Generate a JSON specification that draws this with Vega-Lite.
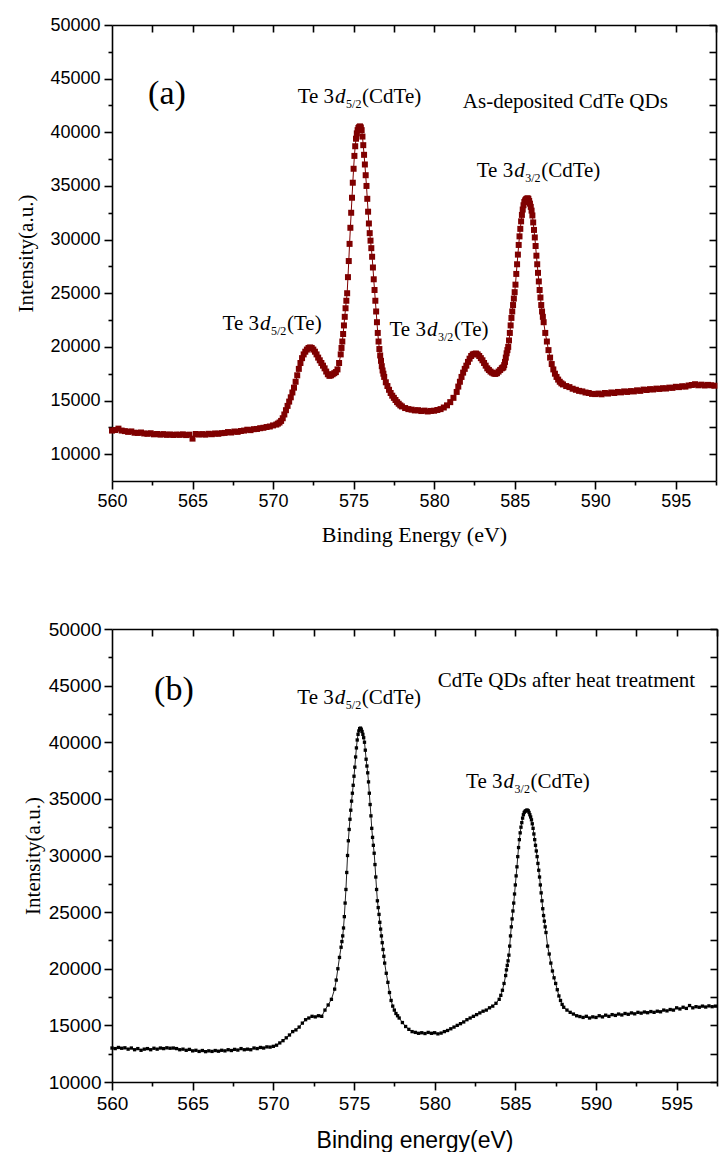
{
"$schema": "https://vega.github.io/schema/vega-lite/v6.json",
"padding": {"left": 15, "top": 16, "right": 0, "bottom": 0},
"spacing": 75,
"align": "none",
"config": {
  "view": {"stroke": null},
  "axis": {"labelFont": "Liberation Sans", "labelFontSize": 18, "labelColor": "black", "domainColor": "black", "tickColor": "black", "domainWidth": 1.6, "tickWidth": 1.6, "grid": false, "titleColor": "black", "titleFontWeight": "normal", "labelOverlap": false, "labelFlush": false}
},
"datasets": {
"a": [
{"e":560.0,"i":12200},{"e":560.2,"i":12250},{"e":560.4,"i":12380},{"e":560.6,"i":12200},{"e":560.8,"i":12150},{"e":561.0,"i":12080},{"e":561.2,"i":12120},{"e":561.4,"i":12000},{"e":561.6,"i":11980},{"e":561.8,"i":12020},
{"e":562.0,"i":11930},{"e":562.2,"i":11900},{"e":562.4,"i":11950},{"e":562.6,"i":11850},{"e":562.8,"i":11880},{"e":563.0,"i":11820},{"e":563.2,"i":11870},{"e":563.4,"i":11800},{"e":563.6,"i":11840},{"e":563.8,"i":11790},
{"e":564.0,"i":11830},{"e":564.2,"i":11800},{"e":564.4,"i":11850},{"e":564.6,"i":11780},{"e":564.8,"i":11820},{"e":565.0,"i":11450},{"e":565.2,"i":11880},{"e":565.4,"i":11830},{"e":565.6,"i":11870},{"e":565.8,"i":11820},
{"e":566.0,"i":11900},{"e":566.2,"i":11860},{"e":566.4,"i":11930},{"e":566.6,"i":11900},{"e":566.8,"i":11960},{"e":567.0,"i":11980},{"e":567.2,"i":12060},{"e":567.4,"i":12020},{"e":567.6,"i":12110},{"e":567.8,"i":12080},
{"e":568.0,"i":12160},{"e":568.2,"i":12200},{"e":568.4,"i":12280},{"e":568.6,"i":12240},{"e":568.8,"i":12330},{"e":569.0,"i":12350},{"e":569.2,"i":12420},{"e":569.4,"i":12460},{"e":569.6,"i":12530},{"e":569.8,"i":12580},
{"e":570.0,"i":12680},{"e":570.2,"i":12760},{"e":570.3,"i":12850},{"e":570.4,"i":12950},{"e":570.5,"i":13100},{"e":570.6,"i":13350},{"e":570.7,"i":13700},{"e":570.8,"i":14100},{"e":570.9,"i":14500},{"e":571.0,"i":14900},
{"e":571.1,"i":15300},{"e":571.2,"i":15750},{"e":571.3,"i":16200},{"e":571.4,"i":16750},{"e":571.5,"i":17350},{"e":571.6,"i":17950},{"e":571.7,"i":18500},{"e":571.8,"i":18950},{"e":571.9,"i":19300},{"e":572.0,"i":19550},
{"e":572.1,"i":19750},{"e":572.2,"i":19900},{"e":572.3,"i":19950},{"e":572.4,"i":19900},{"e":572.5,"i":19750},{"e":572.6,"i":19550},{"e":572.7,"i":19300},{"e":572.8,"i":19000},{"e":572.9,"i":18750},{"e":573.0,"i":18500},
{"e":573.1,"i":18250},{"e":573.2,"i":18000},{"e":573.3,"i":17700},{"e":573.4,"i":17450},{"e":573.5,"i":17300},{"e":573.6,"i":17350},{"e":573.7,"i":17450},{"e":573.8,"i":17550},{"e":573.9,"i":17650},{"e":574.0,"i":17900},
{"e":574.1,"i":18500},{"e":574.2,"i":19300},{"e":574.25,"i":19900},{"e":574.3,"i":20500},{"e":574.35,"i":21200},{"e":574.4,"i":22000},{"e":574.45,"i":22800},{"e":574.5,"i":23600},{"e":574.55,"i":24300},{"e":574.6,"i":25000},
{"e":574.65,"i":26500},{"e":574.7,"i":28000},{"e":574.75,"i":29600},{"e":574.8,"i":31100},{"e":574.85,"i":32500},{"e":574.9,"i":33900},{"e":574.95,"i":35300},{"e":575.0,"i":36600},{"e":575.05,"i":37800},{"e":575.1,"i":38700},
{"e":575.15,"i":39400},{"e":575.2,"i":39900},{"e":575.25,"i":40200},{"e":575.3,"i":40400},{"e":575.35,"i":40500},{"e":575.4,"i":40550},{"e":575.45,"i":40450},{"e":575.5,"i":40200},{"e":575.55,"i":39600},{"e":575.6,"i":38800},
{"e":575.65,"i":37900},{"e":575.7,"i":37000},{"e":575.75,"i":36000},{"e":575.8,"i":35000},{"e":575.85,"i":33800},{"e":575.9,"i":32600},{"e":575.95,"i":31500},{"e":576.0,"i":30600},{"e":576.05,"i":29900},{"e":576.1,"i":29200},
{"e":576.15,"i":28400},{"e":576.2,"i":27400},{"e":576.25,"i":26300},{"e":576.3,"i":25300},{"e":576.35,"i":24300},{"e":576.4,"i":23300},{"e":576.45,"i":22300},{"e":576.5,"i":21300},{"e":576.55,"i":20500},{"e":576.6,"i":19800},
{"e":576.65,"i":19200},{"e":576.7,"i":18700},{"e":576.75,"i":18200},{"e":576.8,"i":17800},{"e":576.85,"i":17500},{"e":576.9,"i":17200},{"e":577.0,"i":16700},{"e":577.1,"i":16350},{"e":577.2,"i":16000},{"e":577.3,"i":15700},
{"e":577.4,"i":15450},{"e":577.5,"i":15250},{"e":577.6,"i":15050},{"e":577.7,"i":14850},{"e":577.8,"i":14700},{"e":577.9,"i":14550},{"e":578.0,"i":14450},{"e":578.2,"i":14300},{"e":578.4,"i":14200},{"e":578.6,"i":14150},
{"e":578.8,"i":14080},{"e":579.0,"i":14100},{"e":579.2,"i":14020},{"e":579.4,"i":14060},{"e":579.6,"i":13980},{"e":579.8,"i":14030},{"e":580.0,"i":14050},{"e":580.2,"i":14120},{"e":580.4,"i":14200},{"e":580.6,"i":14350},
{"e":580.8,"i":14550},{"e":581.0,"i":14850},{"e":581.2,"i":15250},{"e":581.4,"i":15800},{"e":581.5,"i":16300},{"e":581.6,"i":16750},{"e":581.7,"i":17200},{"e":581.8,"i":17600},{"e":581.9,"i":17950},{"e":582.0,"i":18250},
{"e":582.1,"i":18600},{"e":582.2,"i":18900},{"e":582.3,"i":19150},{"e":582.4,"i":19300},{"e":582.5,"i":19350},{"e":582.6,"i":19380},{"e":582.7,"i":19300},{"e":582.8,"i":19150},{"e":582.9,"i":18950},{"e":583.0,"i":18750},
{"e":583.1,"i":18500},{"e":583.2,"i":18250},{"e":583.3,"i":18000},{"e":583.4,"i":17850},{"e":583.5,"i":17700},{"e":583.6,"i":17600},{"e":583.7,"i":17520},{"e":583.8,"i":17480},{"e":583.9,"i":17550},{"e":584.0,"i":17700},
{"e":584.1,"i":17850},{"e":584.2,"i":18000},{"e":584.25,"i":18050},{"e":584.3,"i":18100},{"e":584.35,"i":18300},{"e":584.4,"i":18600},{"e":584.45,"i":19000},{"e":584.5,"i":19400},{"e":584.55,"i":19700},{"e":584.6,"i":20000},
{"e":584.65,"i":20600},{"e":584.7,"i":21300},{"e":584.75,"i":22000},{"e":584.8,"i":22700},{"e":584.85,"i":23300},{"e":584.9,"i":23900},{"e":584.95,"i":24500},{"e":585.0,"i":25100},{"e":585.05,"i":25800},{"e":585.1,"i":26800},
{"e":585.15,"i":27700},{"e":585.2,"i":28600},{"e":585.25,"i":29500},{"e":585.3,"i":30300},{"e":585.35,"i":31000},{"e":585.4,"i":31700},{"e":585.45,"i":32300},{"e":585.5,"i":32800},{"e":585.55,"i":33200},{"e":585.6,"i":33500},
{"e":585.65,"i":33650},{"e":585.7,"i":33750},{"e":585.75,"i":33800},{"e":585.8,"i":33850},{"e":585.85,"i":33800},{"e":585.9,"i":33600},{"e":585.95,"i":33350},{"e":586.0,"i":33050},{"e":586.05,"i":32700},{"e":586.1,"i":32250},
{"e":586.15,"i":31600},{"e":586.2,"i":30900},{"e":586.25,"i":30200},{"e":586.3,"i":29400},{"e":586.35,"i":28500},{"e":586.4,"i":27700},{"e":586.45,"i":26900},{"e":586.5,"i":26100},{"e":586.55,"i":25300},{"e":586.6,"i":24600},
{"e":586.65,"i":23900},{"e":586.7,"i":23300},{"e":586.75,"i":22800},{"e":586.8,"i":22300},{"e":586.9,"i":21300},{"e":587.0,"i":20500},{"e":587.1,"i":19700},{"e":587.2,"i":19000},{"e":587.3,"i":18400},{"e":587.4,"i":17900},
{"e":587.5,"i":17500},{"e":587.6,"i":17200},{"e":587.7,"i":16950},{"e":587.8,"i":16750},{"e":587.9,"i":16600},{"e":588.0,"i":16500},{"e":588.2,"i":16350},{"e":588.4,"i":16250},{"e":588.6,"i":16100},{"e":588.8,"i":16000},
{"e":589.0,"i":15900},{"e":589.2,"i":15850},{"e":589.4,"i":15750},{"e":589.6,"i":15700},{"e":589.8,"i":15620},{"e":590.0,"i":15600},{"e":590.2,"i":15650},{"e":590.4,"i":15580},{"e":590.6,"i":15700},{"e":590.8,"i":15650},
{"e":591.0,"i":15750},{"e":591.2,"i":15700},{"e":591.4,"i":15800},{"e":591.6,"i":15760},{"e":591.8,"i":15850},{"e":592.0,"i":15800},{"e":592.2,"i":15880},{"e":592.4,"i":15850},{"e":592.6,"i":15950},{"e":592.8,"i":15900},
{"e":593.0,"i":16020},{"e":593.2,"i":15980},{"e":593.4,"i":16060},{"e":593.6,"i":16030},{"e":593.8,"i":16110},{"e":594.0,"i":16080},{"e":594.2,"i":16150},{"e":594.4,"i":16120},{"e":594.6,"i":16200},{"e":594.8,"i":16180},
{"e":595.0,"i":16280},{"e":595.2,"i":16250},{"e":595.4,"i":16330},{"e":595.6,"i":16300},{"e":595.8,"i":16400},{"e":596.0,"i":16450},{"e":596.2,"i":16520},{"e":596.4,"i":16420},{"e":596.6,"i":16480},{"e":596.8,"i":16400},
{"e":597.0,"i":16460},{"e":597.2,"i":16420},{"e":597.4,"i":16380}
],
"b": [
{"e":560.0,"i":13000},{"e":560.2,"i":12950},{"e":560.4,"i":13050},{"e":560.6,"i":12980},{"e":560.8,"i":13020},{"e":561.0,"i":12900},{"e":561.2,"i":13000},{"e":561.4,"i":12850},{"e":561.6,"i":12950},{"e":561.8,"i":12800},
{"e":562.0,"i":12900},{"e":562.2,"i":12950},{"e":562.4,"i":12850},{"e":562.6,"i":12980},{"e":562.8,"i":12900},{"e":563.0,"i":13000},{"e":563.2,"i":12950},{"e":563.4,"i":13020},{"e":563.6,"i":12980},{"e":563.8,"i":13000},
{"e":564.0,"i":12950},{"e":564.2,"i":12850},{"e":564.4,"i":12900},{"e":564.6,"i":12800},{"e":564.8,"i":12880},{"e":565.0,"i":12750},{"e":565.2,"i":12800},{"e":565.4,"i":12700},{"e":565.6,"i":12780},{"e":565.8,"i":12680},
{"e":566.0,"i":12750},{"e":566.2,"i":12700},{"e":566.4,"i":12780},{"e":566.6,"i":12720},{"e":566.8,"i":12800},{"e":567.0,"i":12750},{"e":567.2,"i":12850},{"e":567.4,"i":12780},{"e":567.6,"i":12880},{"e":567.8,"i":12820},
{"e":568.0,"i":12950},{"e":568.2,"i":12850},{"e":568.4,"i":12900},{"e":568.6,"i":12850},{"e":568.8,"i":13000},{"e":569.0,"i":12950},{"e":569.2,"i":13050},{"e":569.4,"i":13000},{"e":569.6,"i":13100},{"e":569.8,"i":13080},
{"e":570.0,"i":13150},{"e":570.2,"i":13250},{"e":570.4,"i":13450},{"e":570.6,"i":13650},{"e":570.8,"i":13900},{"e":571.0,"i":14150},{"e":571.2,"i":14450},{"e":571.4,"i":14600},{"e":571.6,"i":14850},{"e":571.8,"i":15200},
{"e":572.0,"i":15500},{"e":572.2,"i":15650},{"e":572.4,"i":15800},{"e":572.6,"i":15750},{"e":572.8,"i":15850},{"e":573.0,"i":15800},{"e":573.2,"i":16350},{"e":573.4,"i":16800},{"e":573.6,"i":17300},{"e":573.8,"i":18200},
{"e":573.9,"i":19000},{"e":574.0,"i":20000},{"e":574.1,"i":21000},{"e":574.2,"i":21900},{"e":574.25,"i":22400},{"e":574.3,"i":22900},{"e":574.35,"i":23600},{"e":574.4,"i":24600},{"e":574.45,"i":25800},{"e":574.5,"i":27000},
{"e":574.55,"i":28500},{"e":574.6,"i":30000},{"e":574.65,"i":31300},{"e":574.7,"i":32300},{"e":574.75,"i":33200},{"e":574.8,"i":34000},{"e":574.85,"i":34800},{"e":574.9,"i":35500},{"e":574.95,"i":36200},{"e":575.0,"i":37000},
{"e":575.05,"i":37800},{"e":575.1,"i":38700},{"e":575.15,"i":39500},{"e":575.2,"i":40200},{"e":575.25,"i":40700},{"e":575.3,"i":41000},{"e":575.35,"i":41200},{"e":575.4,"i":41250},{"e":575.45,"i":41150},{"e":575.5,"i":40950},
{"e":575.55,"i":40700},{"e":575.6,"i":40400},{"e":575.65,"i":40000},{"e":575.7,"i":39300},{"e":575.75,"i":38500},{"e":575.8,"i":37900},{"e":575.85,"i":37300},{"e":575.9,"i":36500},{"e":575.95,"i":35500},{"e":576.0,"i":34500},
{"e":576.05,"i":33500},{"e":576.1,"i":32400},{"e":576.15,"i":31600},{"e":576.2,"i":30900},{"e":576.25,"i":30200},{"e":576.3,"i":29200},{"e":576.35,"i":28100},{"e":576.4,"i":27000},{"e":576.45,"i":26000},{"e":576.5,"i":25400},
{"e":576.55,"i":24800},{"e":576.6,"i":24100},{"e":576.65,"i":23500},{"e":576.7,"i":22900},{"e":576.75,"i":22300},{"e":576.8,"i":21700},{"e":576.85,"i":21100},{"e":576.9,"i":20500},{"e":577.0,"i":19600},{"e":577.1,"i":18800},
{"e":577.2,"i":17900},{"e":577.3,"i":17200},{"e":577.4,"i":16700},{"e":577.5,"i":16350},{"e":577.6,"i":16050},{"e":577.7,"i":15850},{"e":577.8,"i":15650},{"e":578.0,"i":15250},{"e":578.2,"i":14900},{"e":578.4,"i":14650},
{"e":578.6,"i":14450},{"e":578.8,"i":14380},{"e":579.0,"i":14300},{"e":579.2,"i":14350},{"e":579.4,"i":14280},{"e":579.6,"i":14380},{"e":579.8,"i":14300},{"e":580.0,"i":14350},{"e":580.2,"i":14250},{"e":580.4,"i":14320},
{"e":580.6,"i":14450},{"e":580.8,"i":14550},{"e":581.0,"i":14700},{"e":581.2,"i":14850},{"e":581.4,"i":15000},{"e":581.6,"i":15150},{"e":581.8,"i":15300},{"e":582.0,"i":15500},{"e":582.2,"i":15650},{"e":582.4,"i":15800},
{"e":582.6,"i":15950},{"e":582.8,"i":16100},{"e":583.0,"i":16250},{"e":583.2,"i":16350},{"e":583.4,"i":16550},{"e":583.6,"i":16700},{"e":583.8,"i":16950},{"e":584.0,"i":17300},{"e":584.1,"i":17650},{"e":584.2,"i":18100},
{"e":584.3,"i":18700},{"e":584.4,"i":19400},{"e":584.45,"i":19900},{"e":584.5,"i":20300},{"e":584.55,"i":20700},{"e":584.6,"i":21200},{"e":584.65,"i":22000},{"e":584.7,"i":22900},{"e":584.75,"i":23700},{"e":584.8,"i":24400},
{"e":584.85,"i":25100},{"e":584.9,"i":25800},{"e":584.95,"i":26600},{"e":585.0,"i":27400},{"e":585.05,"i":28200},{"e":585.1,"i":29000},{"e":585.15,"i":29900},{"e":585.2,"i":30700},{"e":585.25,"i":31400},{"e":585.3,"i":32000},
{"e":585.35,"i":32500},{"e":585.4,"i":32900},{"e":585.45,"i":33300},{"e":585.5,"i":33600},{"e":585.55,"i":33800},{"e":585.6,"i":33900},{"e":585.65,"i":33950},{"e":585.7,"i":34000},{"e":585.75,"i":34000},{"e":585.8,"i":33950},
{"e":585.85,"i":33800},{"e":585.9,"i":33600},{"e":585.95,"i":33400},{"e":586.0,"i":33150},{"e":586.05,"i":32800},{"e":586.1,"i":32400},{"e":586.15,"i":31900},{"e":586.2,"i":31400},{"e":586.25,"i":30900},{"e":586.3,"i":30400},
{"e":586.35,"i":29900},{"e":586.4,"i":29300},{"e":586.45,"i":28700},{"e":586.5,"i":28100},{"e":586.55,"i":27400},{"e":586.6,"i":26700},{"e":586.65,"i":26000},{"e":586.7,"i":25300},{"e":586.75,"i":24700},{"e":586.8,"i":24200},
{"e":586.85,"i":23700},{"e":586.9,"i":23200},{"e":587.0,"i":22000},{"e":587.1,"i":21300},{"e":587.2,"i":20500},{"e":587.3,"i":19800},{"e":587.4,"i":19200},{"e":587.5,"i":18700},{"e":587.6,"i":18150},{"e":587.7,"i":17600},
{"e":587.8,"i":17200},{"e":587.9,"i":16850},{"e":588.0,"i":16600},{"e":588.2,"i":16350},{"e":588.4,"i":16150},{"e":588.6,"i":16000},{"e":588.8,"i":15850},{"e":589.0,"i":15780},{"e":589.2,"i":15700},{"e":589.4,"i":15800},
{"e":589.6,"i":15650},{"e":589.8,"i":15750},{"e":590.0,"i":15700},{"e":590.2,"i":15850},{"e":590.4,"i":15750},{"e":590.6,"i":15900},{"e":590.8,"i":15800},{"e":591.0,"i":15950},{"e":591.2,"i":15880},{"e":591.4,"i":16000},
{"e":591.6,"i":15920},{"e":591.8,"i":16050},{"e":592.0,"i":15980},{"e":592.2,"i":16100},{"e":592.4,"i":16020},{"e":592.6,"i":16150},{"e":592.8,"i":16080},{"e":593.0,"i":16180},{"e":593.2,"i":16120},{"e":593.4,"i":16220},
{"e":593.6,"i":16150},{"e":593.8,"i":16250},{"e":594.0,"i":16200},{"e":594.2,"i":16350},{"e":594.4,"i":16280},{"e":594.6,"i":16400},{"e":594.8,"i":16350},{"e":595.0,"i":16550},{"e":595.2,"i":16450},{"e":595.4,"i":16600},
{"e":595.6,"i":16500},{"e":595.8,"i":16750},{"e":596.0,"i":16550},{"e":596.2,"i":16650},{"e":596.4,"i":16600},{"e":596.6,"i":16700},{"e":596.8,"i":16620},{"e":597.0,"i":16720},{"e":597.2,"i":16650},{"e":597.4,"i":16700}
],
"labA": [
{"x":573.85,"y":42695,"sub":"5/2","tail":"(CdTe)"},
{"x":584.97,"y":35791,"sub":"3/2","tail":"(CdTe)"},
{"x":569.19,"y":21585,"sub":"5/2","tail":"(Te)"},
{"x":579.55,"y":21054,"sub":"3/2","tail":"(Te)"}
],
"labB": [
{"x":573.81,"y":43381,"sub":"5/2","tail":"(CdTe)"},
{"x":584.27,"y":35943,"sub":"3/2","tail":"(CdTe)"}
]
},
"vconcat": [
{
"width": 604, "height": 456,
"resolve": {"axis": {"x": "independent", "y": "independent"}},
"layer": [
{"data": {"name": "a"}, "mark": {"type": "line", "color": "#7f0000", "strokeWidth": 1},
 "encoding": {
  "x": {"field": "e", "type": "quantitative", "scale": {"domain": [560, 597.5], "nice": false, "zero": false},
   "axis": {"orient": "bottom", "values": [560,565,570,575,580,585,590,595], "tickSize": 8, "labelPadding": 3, "format": "d", "title": "Binding Energy (eV)", "titleFont": "Liberation Serif", "titleFontSize": 22, "titlePadding": 14}},
  "y": {"field": "i", "type": "quantitative", "scale": {"domain": [7500, 50000], "nice": false, "zero": false},
   "axis": {"orient": "left", "values": [10000,15000,20000,25000,30000,35000,40000,45000,50000], "tickSize": 8, "labelPadding": 4, "format": "d", "title": "Intensity(a.u.)", "titleFont": "Liberation Serif", "titleFontSize": 21, "titlePadding": 13}}
 }},
{"data": {"name": "a"}, "mark": {"type": "square", "color": "#7f0000", "opacity": 1, "size": 36},
 "encoding": {
  "x": {"field": "e", "type": "quantitative", "axis": {"orient": "bottom", "values": [562.5,567.5,572.5,577.5,582.5,587.5,592.5,597.5], "tickSize": 4, "labels": false, "domain": false, "title": null}},
  "y": {"field": "i", "type": "quantitative", "axis": {"orient": "left", "values": [12500,17500,22500,27500,32500,37500,42500,47500], "tickSize": 4, "labels": false, "domain": false, "title": null}}
 }},
{"data": {"name": "a"}, "mark": {"type": "point", "opacity": 0},
 "encoding": {
  "x": {"field": "e", "type": "quantitative", "axis": {"orient": "top", "values": [562.5,565,567.5,570,572.5,575,577.5,580,582.5,585,587.5,590,592.5,595,597.5], "tickSize": -7, "labels": false, "title": null}},
  "y": {"field": "i", "type": "quantitative", "axis": {"orient": "right", "values": [10000,12500,15000,17500,20000,22500,25000,27500,30000,32500,35000,37500,40000,42500,45000,47500,50000], "tickSize": -7, "labels": false, "title": null}}
 }},
{"data": {"name": "labA"}, "mark": {"type": "text", "align": "right", "baseline": "alphabetic", "font": "Liberation Serif", "fontSize": 21, "dx": -1, "color": "black"},
 "encoding": {"x": {"field": "x", "type": "quantitative", "axis": null}, "y": {"field": "y", "type": "quantitative", "axis": null}, "text": {"value": "Te 3"}}},
{"data": {"name": "labA"}, "mark": {"type": "text", "align": "left", "baseline": "alphabetic", "font": "Liberation Serif", "fontSize": 21, "fontStyle": "italic", "color": "black"},
 "encoding": {"x": {"field": "x", "type": "quantitative", "axis": null}, "y": {"field": "y", "type": "quantitative", "axis": null}, "text": {"value": "d"}}},
{"data": {"name": "labA"}, "mark": {"type": "text", "align": "left", "baseline": "alphabetic", "font": "Liberation Serif", "fontSize": 12, "dx": 11, "dy": 5, "color": "black"},
 "encoding": {"x": {"field": "x", "type": "quantitative", "axis": null}, "y": {"field": "y", "type": "quantitative", "axis": null}, "text": {"field": "sub"}}},
{"data": {"name": "labA"}, "mark": {"type": "text", "align": "left", "baseline": "alphabetic", "font": "Liberation Serif", "fontSize": 21, "dx": 27, "color": "black"},
 "encoding": {"x": {"field": "x", "type": "quantitative", "axis": null}, "y": {"field": "y", "type": "quantitative", "axis": null}, "text": {"field": "tail"}}},
{"data": {"values": [{"x": 562.24, "y": 42660, "t": "(a)"}]}, "mark": {"type": "text", "align": "left", "baseline": "alphabetic", "font": "Liberation Serif", "fontSize": 34, "color": "black"},
 "encoding": {"x": {"field": "x", "type": "quantitative", "axis": null}, "y": {"field": "y", "type": "quantitative", "axis": null}, "text": {"field": "t"}}},
{"data": {"values": [{"x": 581.78, "y": 42293, "t": "As-deposited CdTe QDs"}]}, "mark": {"type": "text", "align": "left", "baseline": "alphabetic", "font": "Liberation Serif", "fontSize": 21, "color": "black"},
 "encoding": {"x": {"field": "x", "type": "quantitative", "axis": null}, "y": {"field": "y", "type": "quantitative", "axis": null}, "text": {"field": "t"}}}
]
},
{
"width": 605, "height": 453,
"resolve": {"axis": {"x": "independent", "y": "independent"}},
"layer": [
{"data": {"name": "b"}, "mark": {"type": "line", "color": "#222222", "strokeWidth": 1},
 "encoding": {
  "x": {"field": "e", "type": "quantitative", "scale": {"domain": [560, 597.5], "nice": false, "zero": false},
   "axis": {"orient": "bottom", "values": [560,565,570,575,580,585,590,595], "tickSize": 8, "labelPadding": 4, "labelFontSize": 19, "format": "d", "title": "Binding energy(eV)", "titleFont": "Liberation Sans", "titleFontSize": 23, "titlePadding": 16}},
  "y": {"field": "i", "type": "quantitative", "scale": {"domain": [10000, 50000], "nice": false, "zero": false},
   "axis": {"orient": "left", "values": [10000,15000,20000,25000,30000,35000,40000,45000,50000], "tickSize": 8, "labelPadding": 3, "labelFontSize": 19, "format": "d", "title": "Intensity(a.u.)", "titleFont": "Liberation Serif", "titleFontSize": 21, "titlePadding": 5}}
 }},
{"data": {"name": "b"}, "mark": {"type": "square", "color": "black", "opacity": 1, "size": 11},
 "encoding": {
  "x": {"field": "e", "type": "quantitative", "axis": {"orient": "bottom", "values": [562.5,567.5,572.5,577.5,582.5,587.5,592.5,597.5], "tickSize": 4, "labels": false, "domain": false, "title": null}},
  "y": {"field": "i", "type": "quantitative", "axis": {"orient": "left", "values": [12500,17500,22500,27500,32500,37500,42500,47500], "tickSize": 4, "labels": false, "domain": false, "title": null}}
 }},
{"data": {"name": "b"}, "mark": {"type": "point", "opacity": 0},
 "encoding": {
  "x": {"field": "e", "type": "quantitative", "axis": {"orient": "top", "values": [562.5,565,567.5,570,572.5,575,577.5,580,582.5,585,587.5,590,592.5,595,597.5], "tickSize": -7, "labels": false, "title": null}},
  "y": {"field": "i", "type": "quantitative", "axis": {"orient": "right", "values": [10000,12500,15000,17500,20000,22500,25000,27500,30000,32500,35000,37500,40000,42500,45000,47500,50000], "tickSize": -7, "labels": false, "title": null}}
 }},
{"data": {"name": "labB"}, "mark": {"type": "text", "align": "right", "baseline": "alphabetic", "font": "Liberation Serif", "fontSize": 21, "dx": -1, "color": "black"},
 "encoding": {"x": {"field": "x", "type": "quantitative", "axis": null}, "y": {"field": "y", "type": "quantitative", "axis": null}, "text": {"value": "Te 3"}}},
{"data": {"name": "labB"}, "mark": {"type": "text", "align": "left", "baseline": "alphabetic", "font": "Liberation Serif", "fontSize": 21, "fontStyle": "italic", "color": "black"},
 "encoding": {"x": {"field": "x", "type": "quantitative", "axis": null}, "y": {"field": "y", "type": "quantitative", "axis": null}, "text": {"value": "d"}}},
{"data": {"name": "labB"}, "mark": {"type": "text", "align": "left", "baseline": "alphabetic", "font": "Liberation Serif", "fontSize": 12, "dx": 11, "dy": 5, "color": "black"},
 "encoding": {"x": {"field": "x", "type": "quantitative", "axis": null}, "y": {"field": "y", "type": "quantitative", "axis": null}, "text": {"field": "sub"}}},
{"data": {"name": "labB"}, "mark": {"type": "text", "align": "left", "baseline": "alphabetic", "font": "Liberation Serif", "fontSize": 21, "dx": 27, "color": "black"},
 "encoding": {"x": {"field": "x", "type": "quantitative", "axis": null}, "y": {"field": "y", "type": "quantitative", "axis": null}, "text": {"field": "tail"}}},
{"data": {"values": [{"x": 562.61, "y": 43734, "t": "(b)"}]}, "mark": {"type": "text", "align": "left", "baseline": "alphabetic", "font": "Liberation Serif", "fontSize": 34, "color": "black"},
 "encoding": {"x": {"field": "x", "type": "quantitative", "axis": null}, "y": {"field": "y", "type": "quantitative", "axis": null}, "text": {"field": "t"}}},
{"data": {"values": [{"x": 580.19, "y": 44855, "t": "CdTe QDs after heat treatment"}]}, "mark": {"type": "text", "align": "left", "baseline": "alphabetic", "font": "Liberation Serif", "fontSize": 21, "color": "black"},
 "encoding": {"x": {"field": "x", "type": "quantitative", "axis": null}, "y": {"field": "y", "type": "quantitative", "axis": null}, "text": {"field": "t"}}}
]
}
]
}
